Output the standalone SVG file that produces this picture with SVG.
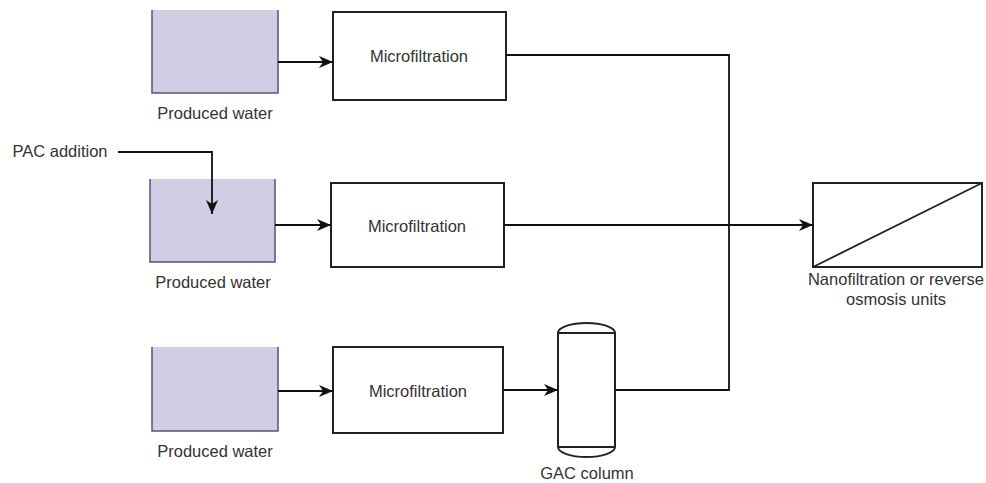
<svg xmlns="http://www.w3.org/2000/svg" width="986" height="483" viewBox="0 0 986 483">
<defs>
<marker id="arr" markerUnits="userSpaceOnUse" markerWidth="16" markerHeight="14" refX="14" refY="7" orient="auto">
<path d="M0,1 L14,7 L0,13 L4,7 Z" fill="#111"/>
</marker>
</defs>
<style>
.tank{fill:#d0cee2;stroke:#56517e;stroke-width:1.5}
.box{fill:#fff;stroke:#222;stroke-width:2}
.ln{fill:none;stroke:#111;stroke-width:1.8}
.t{font-family:"Liberation Sans",Arial,sans-serif;font-size:16.5px;fill:#333;text-anchor:middle;dominant-baseline:central}
</style>
<rect width="986" height="483" fill="#fff"/>
<g id="tank1">
<rect x="152" y="10" width="126" height="83" fill="#d0cee2"/>
<path class="tank" d="M152,10 V93 H278 V10"/>
<text class="t" x="215" y="113">Produced water</text>
</g>
<g id="tank2">
<rect x="150" y="179" width="125" height="83" fill="#d0cee2"/>
<path class="tank" d="M150,179 V262 H275 V179"/>
<text class="t" x="213" y="282">Produced water</text>
</g>
<g id="tank3">
<rect x="152" y="347" width="126" height="84" fill="#d0cee2"/>
<path class="tank" d="M152,347 V431 H278 V347"/>
<text class="t" x="215" y="451">Produced water</text>
</g>
<g id="pac">
<text class="t" x="60" y="151">PAC addition</text>
</g>
<g id="mf1">
<rect class="box" x="333" y="12" width="173" height="88"/>
<text class="t" x="419" y="56">Microfiltration</text>
</g>
<g id="mf2">
<rect class="box" x="331" y="183" width="173" height="84"/>
<text class="t" x="417" y="226">Microfiltration</text>
</g>
<g id="mf3">
<rect class="box" x="333" y="347" width="170" height="86"/>
<text class="t" x="418" y="391">Microfiltration</text>
</g>
<g id="gac">
<path class="box" d="M558,333 A28.5,10 0 0 1 615,333 V447 A28.5,10 0 0 1 558,447 Z"/>
<path class="ln" d="M558,333 H615 M558,447 H615" style="stroke:#222;stroke-width:1.8"/>
<text class="t" x="587" y="473">GAC column</text>
</g>
<g id="nf">
<rect class="box" x="813" y="183" width="169" height="84"/>
<path class="ln" d="M813,267 L982,183" style="stroke:#222"/>
<text class="t" x="896" y="279">Nanofiltration or reverse</text>
<text class="t" x="896" y="299">osmosis units</text>
</g>
<g id="connectors">
<path class="ln" d="M278,62 H333" marker-end="url(#arr)"/>
<path class="ln" d="M118,152 H212 V214" marker-end="url(#arr)"/>
<path class="ln" d="M275,225 H331" marker-end="url(#arr)"/>
<path class="ln" d="M278,391 H333" marker-end="url(#arr)"/>
<path class="ln" d="M503,390 H558" marker-end="url(#arr)"/>
<path class="ln" d="M506,55 H729 V390 H615"/>
<path class="ln" d="M504,225 H813" marker-end="url(#arr)"/>
</g>
</svg>
